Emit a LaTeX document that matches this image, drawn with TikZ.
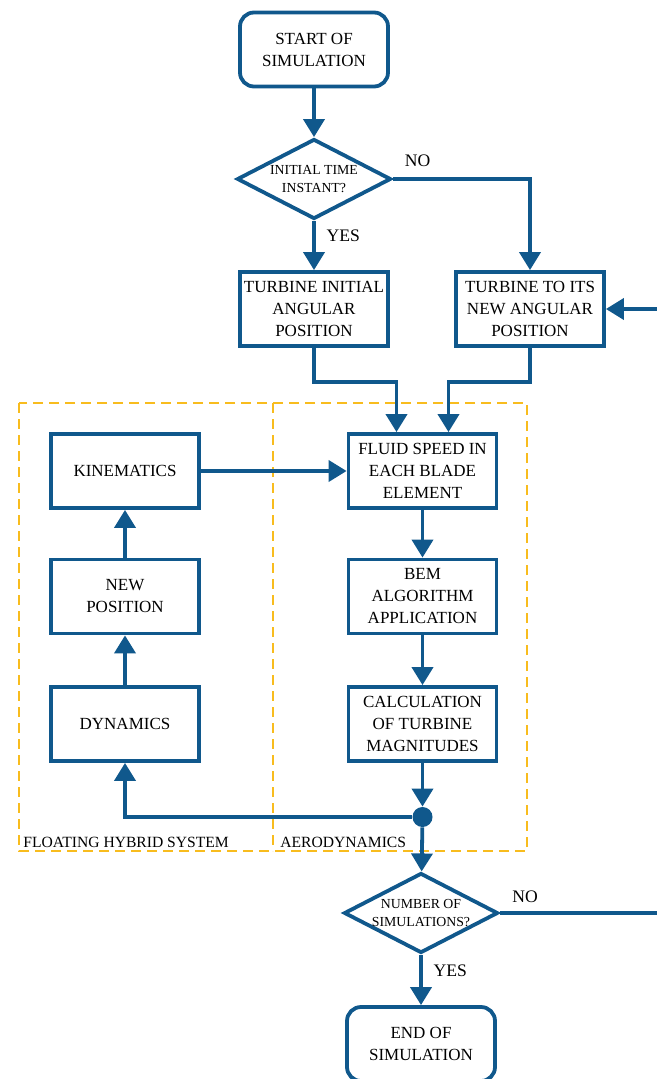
\documentclass[tikz,border=0pt]{standalone}
\usepackage{fontspec}
\setmainfont{Liberation Serif}
\usetikzlibrary{shapes.geometric,arrows.meta,positioning}
\definecolor{flowblue}{RGB}{16,88,140}
\definecolor{frameyellow}{RGB}{248,188,30}
\tikzset{ >={Triangle[length=9pt,width=10.5pt]} }
\tikzset{
  flow/.style={draw=flowblue, line width=1.9pt, ->},
  block/.style={draw=flowblue, line width=1.9pt, rectangle, minimum width=74pt, minimum height=37pt,
                inner sep=1pt, align=center, font=\fontsize{8.5}{11}\selectfont},
  terminal/.style={block, rounded corners=7pt},
  decision/.style={draw=flowblue, line width=1.9pt, diamond, aspect=1.9, minimum width=77pt,
                   minimum height=40pt, inner sep=0pt, align=center, font=\fontsize{6.9}{8.6}\selectfont},
  junction/.style={circle, fill=flowblue, inner sep=0pt, minimum size=10pt},
  frame/.style={draw=frameyellow, line width=0.9pt, dash pattern=on 5pt off 3pt},
  branch/.style={font=\fontsize{8.8}{11}\selectfont},
  group/.style={font=\fontsize{7.8}{9}\selectfont, anchor=base west, inner sep=0pt},
}
\begin{document}
\begin{tikzpicture}[x=0.5pt,y=-0.5pt]
    \useasboundingbox (0,0) rectangle (657,1079);          % page size of the reference
    % Dashed groups
    \draw[frame] (19,403) rectangle (527,851);             % Outer frame
    \draw[frame] (273,403) -- (273,851);                   % Divider between the two groups
    \node[group] (hybridLbl) at (23,847)  {FLOATING HYBRID SYSTEM};
    \node[group] (aeroLbl)   at (280,847) {AERODYNAMICS};
    % Main column
    \node[terminal] (start)    at (314,49.5) {START OF\\SIMULATION};
    \node[decision] (initial)  at (314,179)  {INITIAL TIME\\INSTANT?};
    \node[block]    (turbInit) at (314,309)  {TURBINE INITIAL\\ANGULAR\\POSITION};
    \node[block]    (turbNew)  at (530,309)  {TURBINE TO ITS\\NEW ANGULAR\\POSITION};
    % Aerodynamics
    \node[block] (fluid) at (422.5,471)   {FLUID SPEED IN\\EACH BLADE\\ELEMENT};
    \node[block] (bem)   at (422.5,596.5) {BEM\\ALGORITHM\\APPLICATION};
    \node[block] (calc)  at (422.5,724)   {CALCULATION\\OF TURBINE\\MAGNITUDES};
    % Floating hybrid system
    \node[block] (kin)    at (125,471)   {KINEMATICS};
    \node[block] (newpos) at (125,596.5) {NEW\\POSITION};
    \node[block] (dyn)    at (125,724)   {DYNAMICS};
    % Bottom part
    \node[junction] (split)  at (422.5,817) {};
    \node[decision] (number) at (421,913)   {NUMBER OF\\SIMULATIONS?};
    \node[terminal] (finish) at (421,1044)  {END OF\\SIMULATION};
    % Loose ends of the loop
    \coordinate (loopIn)  at (657,309);
    \coordinate (loopOut) at (657,913);
    % Connectors
    \draw[flow] (start) -- (initial);
    \draw[flow] (initial) -- node[branch, right=2pt, pos=0.3] {YES} (turbInit);
    \draw[flow] (initial.east) -| node[branch, above=2pt, pos=0.09] {NO} (turbNew);
    \draw[flow] (loopIn) -- (turbNew.east);
    \draw[flow] (turbInit.south) -- ++(0,34) -| ([xshift=-13pt]fluid.north);
    \draw[flow] (turbNew.south)  -- ++(0,34) -| ([xshift=13pt]fluid.north);
    \draw[flow] (kin) -- (fluid);
    \draw[flow] (fluid) -- (bem);
    \draw[flow] (bem) -- (calc);
    \draw[flow] (calc) -- (split);
    \draw[flow] (split) -| (dyn);
    \draw[flow] (dyn) -- (newpos);
    \draw[flow] (newpos) -- (kin);
    \draw[flow] (split) -- (number);
    \draw[flow] (number) -- node[branch, right=2pt, pos=0.32] {YES} (finish);
    \draw[flow, -] (number.east) -- node[branch, above=1pt, pos=0.16] {NO} (loopOut);
\end{tikzpicture}
\end{document}
